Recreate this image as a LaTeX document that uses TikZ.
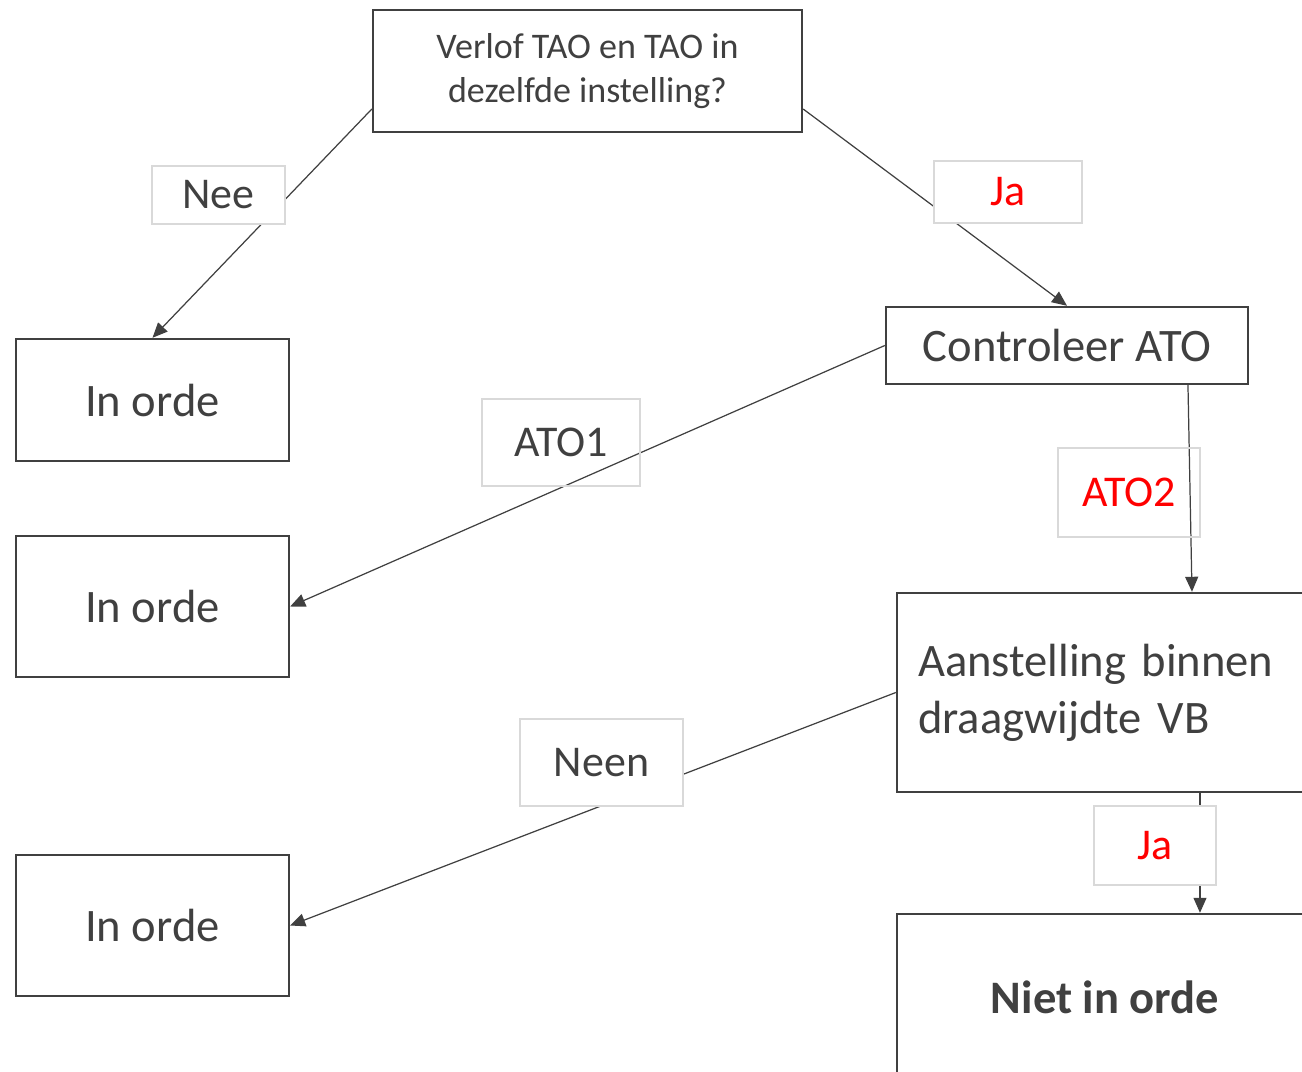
\documentclass[tikz,border=0pt]{standalone}
\usepackage{fontspec}
\setmainfont{Carlito}
\usetikzlibrary{arrows.meta}
\definecolor{ink}{HTML}{404040}
\definecolor{frame}{HTML}{D9D9D9}
\tikzset{
box/.style={
	draw=ink, line width=1.4pt, text=ink, inner sep=0pt,
	font=\fontsize{26.5}{32.4}\selectfont},
answer/.style={
	draw=frame, line width=1.1pt, fill=white, text=ink, inner sep=0pt,
	font=\fontsize{25}{30}\selectfont},
flow/.style={
	draw=ink, line width=0.7pt, -{Triangle[length=0.3cm,width=0.26cm]}}
}

\begin{document}
\begin{tikzpicture}[x=0.02cm, y=-0.02cm]
	\path[use as bounding box, clip] (0,0) rectangle (1302,1072);
	% boxes
	\node[box, minimum width=8.58cm, minimum height=2.44cm, align=center,
		font=\fontsize{20.5}{25.5}\selectfont] (q) at (587.5,71)
		{\raisebox{-0.06cm}{Verlof TAO en TAO in}\\\raisebox{-0.06cm}{dezelfde instelling?}};
	\node[box, minimum width=5.46cm, minimum height=2.44cm] (ok1) at (152.5,400) {In orde};
	\node[box, minimum width=7.24cm, minimum height=1.54cm] (ctrl) at (1067,345.5) {Controleer ATO};
	\node[box, minimum width=5.46cm, minimum height=2.82cm] (ok2) at (152.5,606.5) {In orde};
	\node[box, minimum width=8.32cm, minimum height=3.98cm, text width=7.48cm,
		align=left] (aan) at (1105,692.5)
		{\raisebox{-0.08cm}{Aanstelling binnen}\\\raisebox{-0.08cm}{draagwijdte VB}};
	\node[box, minimum width=5.46cm, minimum height=2.82cm] (ok3) at (152.5,925.5) {In orde};
	\node[box, minimum width=8.32cm, minimum height=3.32cm,
		font=\bfseries\fontsize{26.5}{32.4}\selectfont] (niet) at (1105,997) {Niet in orde};
	% connectors
	\draw[flow] (q.190) -- (ok1.north);
	\draw[flow] (q.-10) -- (ctrl.north);
	\draw[flow] (ctrl.west) -- (ok2.east);
	\draw[flow] ([xshift=2.42cm]ctrl.south) -- ([xshift=1.74cm]aan.north);
	\draw[flow] (aan.west) -- (ok3.east);
	\draw[flow] ([xshift=1.9cm]aan.south) -- ([xshift=1.9cm]niet.north);
	% answers
	\node[answer, minimum width=2.66cm, minimum height=1.16cm] (nee) at (218.5,195) {Nee};
	\node[answer, text=red, minimum width=2.96cm, minimum height=1.24cm] (ja) at (1008,192) {Ja};
	\node[answer, fill=none, minimum width=3.16cm, minimum height=1.74cm] (ato1) at (561,442.5) {ATO1};
	\node[answer, fill=none, text=red, minimum width=2.84cm, minimum height=1.78cm] (ato2) at (1129,492.5) {ATO2};
	\node[answer, minimum width=3.26cm, minimum height=1.74cm] (neen) at (601.5,762.5) {Neen};
	\node[answer, text=red, minimum width=2.44cm, minimum height=1.58cm] (ja2) at (1155,845.5) {Ja};
\end{tikzpicture}
\end{document}
